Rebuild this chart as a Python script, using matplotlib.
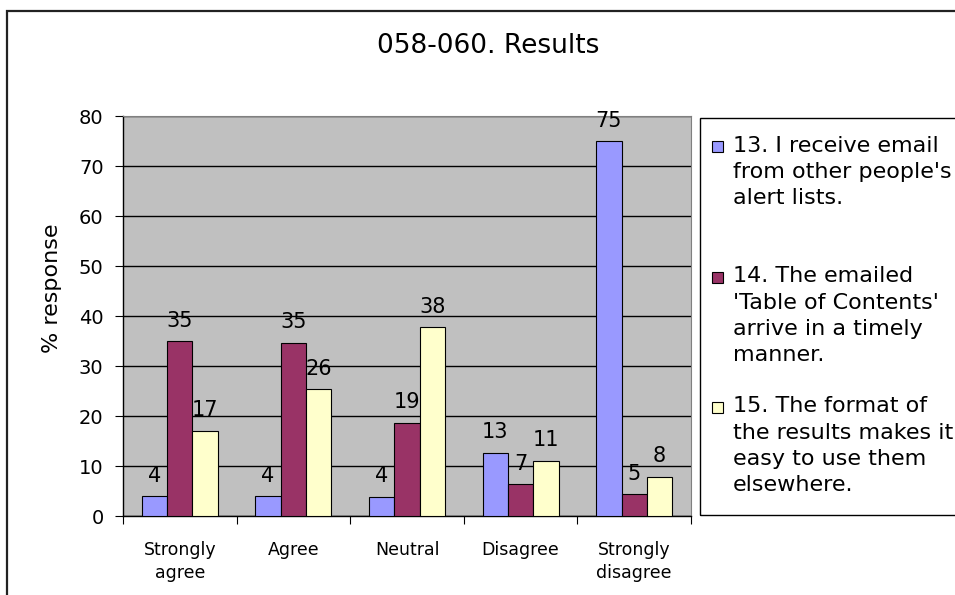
import numpy as np
import matplotlib.pyplot as plt
from matplotlib.patches import Rectangle

# Chart data
categories = ['Strongly\nagree', 'Agree', 'Neutral', 'Disagree', 'Strongly\ndisagree']
series_names = ["13. I receive email\nfrom other people's\nalert lists.",
                "14. The emailed\n'Table of Contents'\narrive in a timely\nmanner.",
                "15. The format of\nthe results makes it\neasy to use them\nelsewhere."]
q13 = [4.0, 4.0, 3.9, 12.7, 75.0]
q14 = [35.0, 34.7, 18.7, 6.4, 4.4]
q15 = [17.1, 25.4, 37.8, 11.1, 7.9]
q13_labels = ['4', '4', '4', '13', '75']
q14_labels = ['35', '35', '19', '7', '5']
q15_labels = ['17', '26', '38', '11', '8']
yticks = [0, 10, 20, 30, 40, 50, 60, 70, 80]

colors = ['#9999FF', '#993366', '#FFFFCC']
W, H = 955, 595

fig = plt.figure(figsize=(W / 100, H / 100), dpi=100)
fig.patch.set_facecolor('white')

# outer chart border
fig.patches.append(Rectangle((7 / W, -0.1), 1.1, (H - 10.5) / H + 0.1,
                             transform=fig.transFigure, fill=False,
                             edgecolor='#222222', linewidth=1.6))

ax = fig.add_axes([123 / W, (H - 516) / H, 568 / W, 400 / H])
ax.set_facecolor('#C0C0C0')

x = np.arange(len(categories))
bw = 0.223
all_vals = [q13, q14, q15]
all_labels = [q13_labels, q14_labels, q15_labels]
for i, (vals, labs) in enumerate(zip(all_vals, all_labels)):
    pos = x + (i - 1) * bw
    bars = ax.bar(pos, vals, width=bw, color=colors[i], edgecolor='black',
                  linewidth=0.8, zorder=3)
    for b, lab in zip(bars, labs):
        ax.annotate(lab, (b.get_x() + b.get_width() / 2, b.get_height()),
                    xytext=(0, 14), textcoords='offset pixels',
                    ha='center', va='baseline', fontsize=15, zorder=4)

ax.set_ylim(0, 80)
ax.set_xlim(-0.5, len(categories) - 0.5)
ax.set_yticks(yticks)
ax.yaxis.grid(True, color='black', linewidth=1.0, zorder=1)
ax.tick_params(axis='y', labelsize=14, length=6, width=0.8, direction='out', pad=8)

ax.set_xticks(x)
ax.set_xticklabels(categories, fontsize=12.5, linespacing=1.35)
ax.tick_params(axis='x', length=0, pad=18)
ax.set_xticks(np.arange(-0.5, len(categories)), minor=True)
ax.tick_params(axis='x', which='minor', length=6, width=0.8, direction='out')

for side in ['top', 'right']:
    ax.spines[side].set_color('#808080')
for side in ['left', 'bottom']:
    ax.spines[side].set_color('black')
    ax.spines[side].set_linewidth(1.0)

fig.text(52 / W, 1 - 288 / H, '% response', rotation=90, fontsize=16,
         ha='center', va='center')
fig.text(488 / W, 1 - 46 / H, '058-060. Results', fontsize=19,
         ha='center', va='center')

# legend box, drawn by hand since it runs off the right edge
fig.patches.append(Rectangle((700 / W, 1 - 515 / H), 0.5, 397 / H,
                             transform=fig.transFigure, fill=False,
                             edgecolor='black', linewidth=1.0))
entry_rows = [146.5, 277.5, 407.5]
for i, name in enumerate(series_names):
    yc = entry_rows[i]
    fig.patches.append(Rectangle((712 / W, 1 - (yc + 5.5) / H), 11 / W, 11 / H,
                                 transform=fig.transFigure, facecolor=colors[i],
                                 edgecolor='black', linewidth=0.8))
    fig.text(733 / W, 1 - (yc - 11) / H, name, fontsize=16, ha='left', va='top',
             linespacing=1.38, transform=fig.transFigure)

plt.savefig('out.png', dpi=100)
plt.close()
